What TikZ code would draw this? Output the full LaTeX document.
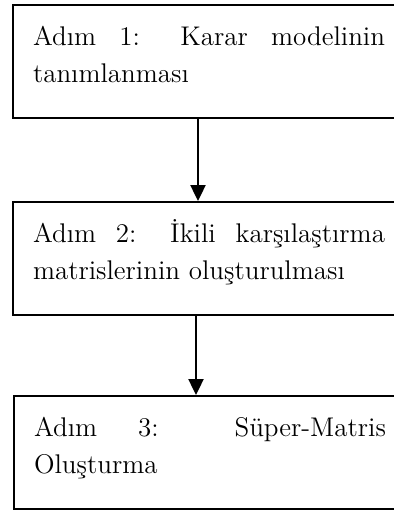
\documentclass[tikz,border=0pt]{standalone}
\usepackage{fontspec}
\usetikzlibrary{positioning}
\usetikzlibrary{arrows.meta}

\hyphenpenalty=10000
\exhyphenpenalty=10000

% first baseline 20pt under the top line, 18pt free under the last one
\newcommand{\steptext}[1]{\rule{0pt}{20pt}#1\rule[-18pt]{0pt}{0pt}}

\tikzset{
  stepbox/.style={draw, rectangle, line width=1pt, anchor=north west,
    text width=176pt, inner xsep=10pt, inner ysep=0pt, minimum height=56.5pt,
    align=justify, font=\fontsize{13.5}{18.5}\selectfont},
  steparrow/.style={line width=1.2pt, -{Triangle[length=8pt,width=7.5pt]}}
}

\begin{document}
\begin{tikzpicture}
  % page size of the reference, the boxes run off the right edge
  \useasboundingbox (0,0) rectangle (197pt,-255pt);
  \clip (0,0) rectangle (197pt,-255pt);

  % the three steps
  \node[stepbox] (adim1) at (6pt,-2pt) {\steptext{Adım 1: Karar modelinin tanımlanması}};
  \node[stepbox, below=41pt of adim1.south west, anchor=north west] (adim2) {\steptext{Adım 2: İkili karşılaştırma matrislerinin oluşturulması}};
  \node[stepbox, below=39.5pt of adim2.south west, anchor=north west, xshift=0.5pt] (adim3) {\steptext{Adım 3: Süper-Matris Oluşturma}};

  % arrows between the steps
  \draw[steparrow] ([xshift=93pt]adim1.south west) -- ([xshift=93pt]adim1.south west |- adim2.north);
  \draw[steparrow] ([xshift=92pt]adim2.south west) -- ([xshift=92pt]adim2.south west |- adim3.north);
\end{tikzpicture}
\end{document}
